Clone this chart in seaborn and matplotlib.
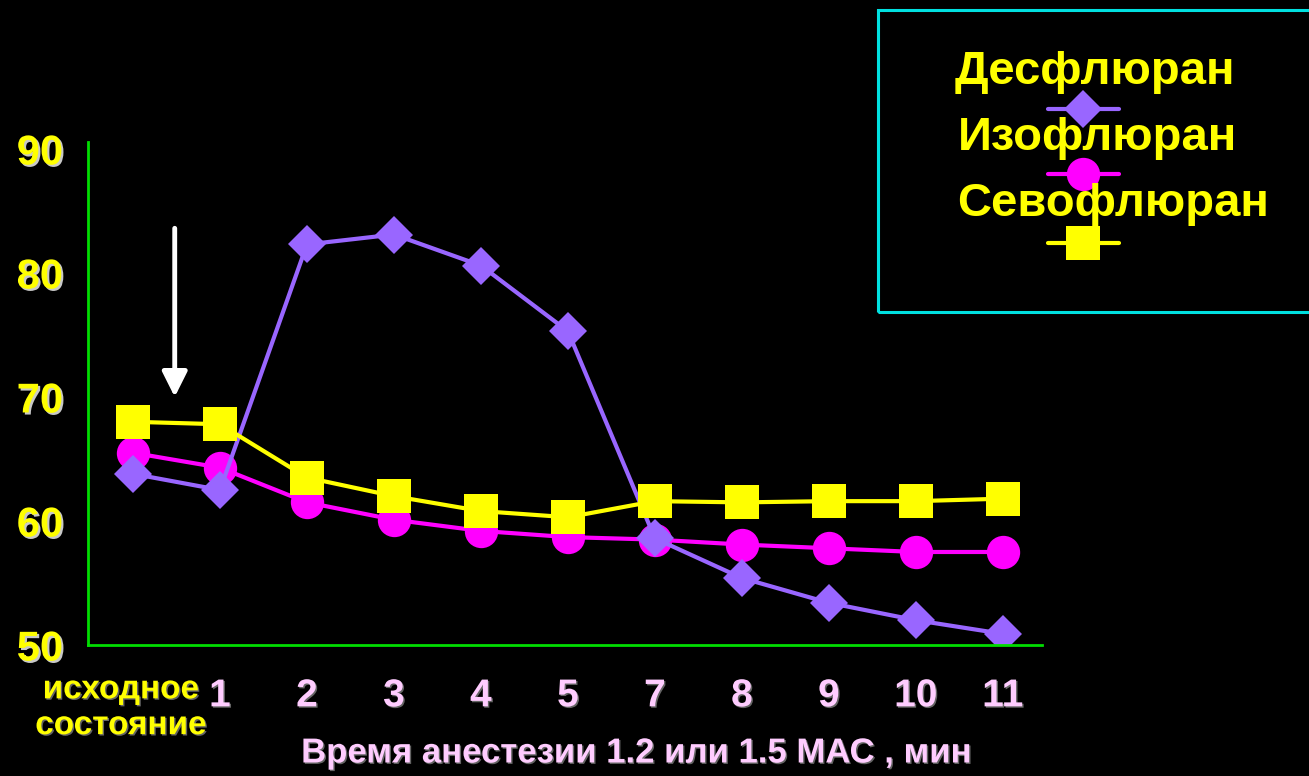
import numpy as np
import pandas as pd
import matplotlib
matplotlib.use("Agg")
import matplotlib.pyplot as plt
import matplotlib.patheffects as pe
import matplotlib.transforms as mtransforms
from matplotlib.lines import Line2D
from matplotlib.patches import Rectangle
import seaborn as sns

# Heart rate during anaesthesia, by agent
time_labels = ["исходное\nсостояние", "1", "2", "3", "4", "5", "7", "8", "9", "10", "11"]
desflurane = [63.8, 62.5, 82.3, 83.1, 80.6, 75.3, 58.6, 55.4, 53.4, 52.0, 50.9]
isoflurane = [65.5, 64.3, 61.5, 60.1, 59.2, 58.7, 58.5, 58.1, 57.8, 57.5, 57.5]
sevoflurane = [68.0, 67.8, 63.5, 62.0, 60.8, 60.3, 61.6, 61.5, 61.6, 61.6, 61.8]
series_names = ["Десфлюран", "Изофлюран", "Севофлюран"]
y_ticks = [50, 60, 70, 80, 90]
x_title = "Время анестезии 1.2 или 1.5 МАС , мин"

colors = {"Десфлюран": "#9966FF", "Изофлюран": "#FF00FF", "Севофлюран": "#FFFF00"}
markers = {"Десфлюран": "D", "Изофлюран": "o", "Севофлюран": "s"}
msizes = {"Десфлюран": 19, "Изофлюран": 24, "Севофлюран": 24}

sns.set_style("dark", {"axes.facecolor": "black", "figure.facecolor": "black"})
plt.rcParams["font.family"] = ["Liberation Sans", "DejaVu Sans"]
plt.rcParams["font.weight"] = "bold"

W, H = 1309, 776
fig = plt.figure(figsize=(W / 100, H / 100), dpi=100, facecolor="black")
ax = fig.add_axes([88 / W, 1 - 645 / H, (1042 - 88) / W, (645 - 142) / H])
ax.set_facecolor("black")

pos = np.arange(len(time_labels))
df = pd.DataFrame({
    "pos": np.tile(pos, 3),
    "value": desflurane + isoflurane + sevoflurane,
    "drug": np.repeat(series_names, len(pos)),
})

# draw order: circles underneath, diamonds, squares on top
for name in ["Изофлюран", "Десфлюран", "Севофлюран"]:
    sub = df[df["drug"] == name]
    sns.lineplot(data=sub, x="pos", y="value", ax=ax, color=colors[name],
                 marker=markers[name], markersize=msizes[name],
                 markeredgewidth=0, linewidth=3, legend=False)

ax.set_xlim(-0.517, 10.45)
ax.set_ylim(50, 90.56)
ax.grid(False)

for side in ["top", "right"]:
    ax.spines[side].set_visible(False)
for side in ["left", "bottom"]:
    ax.spines[side].set_visible(True)
    ax.spines[side].set_color("#00DD00")
    ax.spines[side].set_linewidth(2)

shadow = [pe.withSimplePatchShadow(offset=(1.5, -1.5), shadow_rgbFace="#c8c8c8", alpha=1.0)]
soft_shadow = [pe.withSimplePatchShadow(offset=(1.0, -1.0), shadow_rgbFace="#909090", alpha=0.7)]

ax.set_yticks(y_ticks)
ax.set_yticklabels([str(v) for v in y_ticks])
ax.tick_params(axis="y", length=0, pad=18, labelsize=30, labelcolor="#FFFF00")
for lbl in ax.get_yticklabels():
    lbl.set_fontweight("bold")
    lbl.set_path_effects(shadow)

ax.set_xticks(pos)
ax.set_xticklabels(time_labels)
ax.tick_params(axis="x", length=0, pad=24, labelsize=28, labelcolor="#FFCCFF")
for i, lbl in enumerate(ax.get_xticklabels()):
    lbl.set_fontweight("bold")
    lbl.set_path_effects(soft_shadow)
    if i == 0:
        lbl.set_color("#FFFF00")
        lbl.set_fontsize(24)
        lbl.set_linespacing(1.2)
        lbl.set_path_effects(soft_shadow)
        lbl.set_transform(lbl.get_transform() +
                          mtransforms.ScaledTranslation(-12 / 100, 4 / 100, fig.dpi_scale_trans))

ax.set_ylabel("")
ax.set_xlabel(x_title, fontsize=25, fontweight="bold", color="#FFCCFF", va="center")
ax.xaxis.label.set_path_effects(soft_shadow)
ax.xaxis.set_label_coords((636 - 88) / (1042 - 88), (645 - 753) / (645 - 142))

# onset marker
ax.annotate("", xy=(0.48, 70.0), xytext=(0.48, 83.6),
            arrowprops=dict(arrowstyle="-|>", color="white", lw=3.5,
                            mutation_scale=38, shrinkA=0, shrinkB=0))

# legend panel
def fx(x):
    return x / W

def fy(y):
    return 1 - y / H

fig.patches.append(Rectangle((fx(878), fy(312)), fx(1320) - fx(878), fy(10) - fy(312),
                             transform=fig.transFigure, facecolor="none",
                             edgecolor="#00E0E0", linewidth=2.2, zorder=1))
text_pos = {"Десфлюран": (955, 84), "Изофлюран": (958, 150), "Севофлюран": (957, 216)}
marker_y = {"Десфлюран": 109, "Изофлюран": 174, "Севофлюран": 243}
for name in series_names:
    tx, ty = text_pos[name]
    fig.text(fx(tx), fy(ty), name, color="#FFFF00", fontsize=34, fontweight="bold",
             ha="left", va="baseline")
    my = marker_y[name]
    fig.lines.append(Line2D([fx(1048), fx(1083), fx(1119)], [fy(my)] * 3,
                            transform=fig.transFigure, color=colors[name], linewidth=3,
                            marker=markers[name], markersize=msizes[name],
                            markeredgewidth=0, markevery=[1]))

fig.savefig("out.png", dpi=100, facecolor="black")
